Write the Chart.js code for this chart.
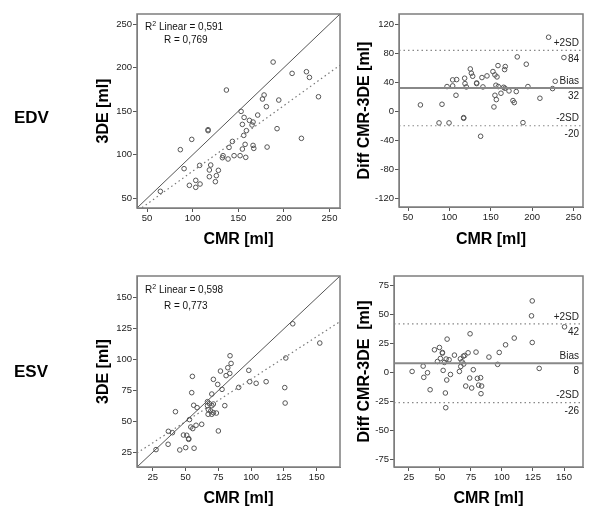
<!DOCTYPE html>
<html>
<head>
<meta charset="utf-8">
<title>EDV / ESV CMR vs 3DE</title>
<script src="https://cdn.jsdelivr.net/npm/chart.js@4.4.0/dist/chart.umd.min.js"></script>
<style>
    body { margin: 0; background: #fff; }
    #wrap { position: relative; width: 600px; height: 513px; overflow: hidden; }
    #wrap canvas { position: absolute; left: 0; top: 0; }
    .row-label { position: absolute; font: bold 17px "Liberation Sans", Arial, sans-serif; color: #000; line-height: 20px; }
    .fit-text { position: absolute; font: 10px "Liberation Sans", Arial, sans-serif; color: #111; line-height: 12px; white-space: nowrap; }
    .fit-text sup { font-size: 7px; vertical-align: 4px; line-height: 0; }
</style>
</head>
<body>
<div id="wrap">
    <canvas id="edv-scatter" width="600" height="513"></canvas>
    <canvas id="edv-diff" width="600" height="513"></canvas>
    <canvas id="esv-scatter" width="600" height="513"></canvas>
    <canvas id="esv-diff" width="600" height="513"></canvas>

    <div class="row-label" style="left:14px; top:108px;">EDV</div>
    <div class="row-label" style="left:14px; top:362px;">ESV</div>

    <div class="fit-text" style="left:145px; top:21px;">R<sup>2</sup> Linear = 0,591</div>
    <div class="fit-text" style="left:164px; top:34px;">R = 0,769</div>
    <div class="fit-text" style="left:145px; top:284px;">R<sup>2</sup> Linear = 0,598</div>
    <div class="fit-text" style="left:164px; top:300px;">R = 0,773</div>
</div>

<script>
// ---- EDV: CMR vs 3DE (ml) ----
const edvCmr = [64.6, 188.2, 209, 224.7, 228, 237.9, 137, 178.3, 176.5, 194.4, 180.8, 153.1, 171.3, 156.4, 162.2, 166.2,
    154.5, 165.1, 158.9, 192.5, 116.9, 116.9, 99, 86.5, 143.6, 156, 157.5, 139.9, 154.5, 166.2, 167, 181.6, 219.2,
    133.3, 132.6, 138.8, 145.4, 152, 158.2, 90.6, 107.7, 119.8, 118.3, 128.2, 118.3, 126, 124.9, 103.4, 108.1, 96.4, 103.4];
const edv3de = [58.1, 206.4, 193.4, 195.3, 188.8, 166.6, 174.3, 168.6, 164, 162.8, 155.2, 149.8, 145.6, 142.9, 139.5, 137.6,
    134.9, 134.2, 127.7, 130, 128.8, 127.7, 117.7, 105.9, 115.4, 122.3, 112, 108.5, 106.6, 110.8, 107.4, 108.9, 118.9,
    99, 96.7, 95.2, 99, 99, 97.1, 84.1, 87.9, 88.3, 82.6, 82.2, 74.9, 76.1, 69.2, 70.7, 66.5, 65, 62.7];

// EDV Bland-Altman: CMR vs difference CMR-3DE
const edvDiffCmr = [219.9, 238.4, 182, 192.9, 158.7, 167.5, 166.7, 125.2, 126.5, 128.1, 152.6, 155, 157.5, 145.4, 139.3, 118.4,
    103.9, 108.7, 118.8, 97.1, 103.9, 120.4, 132.9, 132.9, 140.5, 156.2, 159.1, 165.5, 167.1, 172, 180.8, 194.9, 227.9,
    224.7, 162.3, 155, 156.7, 176.8, 178.4, 209.4, 107.9, 153.8, 64.9, 91, 117.2, 117.2, 87.4, 99.5, 188.9, 137.7];
const edvDiff = [102, 74, 74.9, 64.8, 62.9, 61.6, 57.4, 58.3, 52.4, 48.2, 54.7, 50.1, 47.3, 48.7, 46.4, 45.5,
    43.2, 43.6, 38.1, 34, 34.9, 33.5, 39, 38.1, 33.5, 35.8, 34, 33, 31.7, 28, 27.1, 34, 41.3,
    31.2, 24.8, 22, 16, 14.7, 11.9, 17.9, 22, 5.9, 8.7, 9.6, -8.8, -9.7, -16.1, -16.1, -15.7, -34.5];

// ---- ESV ----
const esvCmr = [27.5, 36.7, 36.9, 40, 42.3, 45.6, 50.1, 48.4, 50.9, 52.4, 52.4, 56.5, 53, 54, 55.5, 58, 62.3, 55.2, 54.7,
    56.2, 58.8, 71.2, 76.6, 83.9, 82.2, 84.7, 80.9, 83.7, 74.5, 77.8, 70, 66.7, 68.2, 71.2, 66.7, 70, 67.4, 69.2, 71.2,
    73.5, 67.2, 70, 79.9, 75, 90.5, 98.2, 98.9, 103.8, 111.4, 126.4, 125.6, 125.9, 131.7, 152.3];
const esv3de = [27.1, 31.4, 41.9, 40.8, 57.8, 26.8, 28.7, 38.9, 38.7, 36, 35.4, 28.2, 51.4, 45.4, 44.1, 46.8, 47.6, 86.4, 73.2,
    63, 61.1, 84, 90.7, 103.1, 93.4, 96.9, 87, 88.8, 79.9, 75.9, 72.1, 65.9, 64.3, 64, 62.7, 62.7, 59.4, 58.4, 57,
    56.7, 55.7, 55.7, 62.7, 42.2, 77.5, 91.3, 82.1, 80.8, 82.1, 101.3, 77.3, 64.8, 129, 113.4];

const esvDiffCmr = [124.4, 123.8, 124.4, 150.4, 130, 109.9, 102.9, 97.8, 96.5, 89.5, 74.3, 79.1, 72.7, 76.9, 70, 68.9, 66.5,
    67.8, 69.2, 66.8, 65.7, 61.7, 55.8, 49.6, 45.6, 52, 52, 50.4, 48, 55, 57.4, 53.6, 36.5, 27.6, 40, 37, 52.6, 58.5,
    55.5, 42.1, 54.4, 54.7, 74, 70.8, 75.6, 80.2, 82.8, 81.2, 83.6, 83.1];
const esvDiff = [61.8, 48.9, 25.9, 39.4, 3.5, 29.7, 23.9, 17.3, 7, 13.3, 33.4, 17.6, 17, 2.4, 14.7, 14.1, 11.8,
    9.3, 7.3, 5.2, 0.9, 15, 28.8, 21.6, 19.6, 17.3, 16.7, 12.1, 9.5, 11.6, 11, 8.7, 5.5, 0.9, -0.2, -4.2, 1.8, -1.7,
    -6.5, -14.9, -17.7, -30.4, -4.8, -11.7, -13.4, -5.1, -4.5, -10.9, -11.7, -18.3];

// axis ranges and ticks
const edvRange = [39, 261.5];
const edvDiffRange = [-132, 134];
const esvRange = [13, 167.7];
const esvDiffXRange = [13, 165.3];
const esvDiffRange = [-81.6, 83.3];

// lines: identity and linear fit end points
const edvFitLine = [[44.5, 39.4], [261.5, 202.8]];
const esvFitLine = [[13, 24.3], [167.7, 130.8]];

// Bland-Altman limits: +2SD, bias, -2SD
const limitNames = ['+2SD', 'Bias', '-2SD'];
const edvLimits = [84, 32, -20];
const esvLimits = [42, 8, -26];

const fontFamily = '"Liberation Sans", Arial, sans-serif';
Chart.defaults.font.family = fontFamily;
Chart.defaults.color = '#222';

const toPoints = (xs, ys) => xs.map((x, i) => ({ x: x, y: ys[i] }));
const pairs = arr => arr.map(p => ({ x: p[0], y: p[1] }));

const framePlugin = {
    id: 'frame',
    afterDatasetsDraw(chart) {
        const { ctx, chartArea: a } = chart;
        ctx.save();
        ctx.strokeStyle = '#7d7d7d';
        ctx.lineWidth = 1.5;
        ctx.strokeRect(a.left, a.top, a.right - a.left, a.bottom - a.top);
        ctx.restore();
    }
};

const limitLabelPlugin = {
    id: 'limitLabels',
    afterDatasetsDraw(chart, args, opts) {
        if (!opts || !opts.values) return;
        const { ctx, chartArea: a } = chart;
        const yScale = chart.scales.y;
        ctx.save();
        ctx.font = '10px ' + fontFamily;
        ctx.fillStyle = '#222';
        ctx.textAlign = 'right';
        ctx.textBaseline = 'middle';
        opts.values.forEach((v, i) => {
            const py = yScale.getPixelForValue(v);
            ctx.fillText(limitNames[i], a.right - 4, py - 7);
            ctx.fillText(String(v), a.right - 4, py + 8.5);
        });
        ctx.restore();
    }
};

function makeAxis(range, step, title, size, isY) {
    return {
        type: 'linear',
        min: range[0],
        max: range[1],
        ticks: { stepSize: step, includeBounds: false, padding: 1, color: '#222', font: { size: 9.5 } },
        grid: { drawOnChartArea: false, drawTicks: true, tickLength: 4, tickColor: '#555' },
        border: { display: true, color: '#7d7d7d', width: 1 },
        title: { display: true, text: title, color: '#000', padding: 0, font: { size: 16, weight: 'bold' } },
        afterFit: scale => { if (isY) scale.width = size; else scale.height = size; }
    };
}

const pointStyle = {
    type: 'scatter',
    pointRadius: 2.3,
    pointBorderWidth: 1,
    pointBorderColor: '#555',
    pointBackgroundColor: 'rgba(0,0,0,0)',
    showLine: false
};

function lineSet(points, color, width, dash) {
    return {
        type: 'scatter',
        data: points,
        showLine: true,
        pointRadius: 0,
        borderColor: color,
        borderWidth: width,
        borderDash: dash,
        fill: false
    };
}

function makeChart(id, datasets, scales, padding, limits) {
    return new Chart(document.getElementById(id), {
        type: 'scatter',
        data: { datasets: datasets },
        options: {
            responsive: false,
            animation: false,
            devicePixelRatio: 1,
            layout: { padding: padding },
            scales: scales,
            plugins: {
                legend: { display: false },
                tooltip: { enabled: false },
                limitLabels: limits ? { values: limits } : {}
            }
        },
        plugins: [framePlugin, limitLabelPlugin]
    });
}

// EDV scatter
makeChart('edv-scatter', [
    lineSet(pairs([[edvRange[0], edvRange[0]], [edvRange[1], edvRange[1]]]), '#555', 1, []),
    lineSet(pairs(edvFitLine), '#777', 1.2, [1.5, 3]),
    Object.assign({ data: toPoints(edvCmr, edv3de) }, pointStyle)
], {
    x: makeAxis(edvRange, 50, 'CMR [ml]', 41, false),
    y: makeAxis(edvRange, 50, '3DE [ml]', 43, true)
}, { left: 94, top: 14, right: 260, bottom: 264 });

// EDV Bland-Altman
makeChart('edv-diff', [
    lineSet(pairs([[edvRange[0], edvLimits[0]], [edvRange[1], edvLimits[0]]]), '#888', 1.2, [1.5, 3]),
    lineSet(pairs([[edvRange[0], edvLimits[1]], [edvRange[1], edvLimits[1]]]), '#888', 2, []),
    lineSet(pairs([[edvRange[0], edvLimits[2]], [edvRange[1], edvLimits[2]]]), '#888', 1.2, [1.5, 3]),
    Object.assign({ data: toPoints(edvDiffCmr, edvDiff) }, pointStyle)
], {
    x: makeAxis(edvRange, 50, 'CMR [ml]', 42, false),
    y: makeAxis(edvDiffRange, 40, 'Diff CMR-3DE [ml]', 44, true)
}, { left: 355, top: 14, right: 17, bottom: 264 }, edvLimits);

// ESV scatter
makeChart('esv-scatter', [
    lineSet(pairs([[esvRange[0], esvRange[0]], [esvRange[1], esvRange[1]]]), '#555', 1, []),
    lineSet(pairs(esvFitLine), '#777', 1.2, [1.5, 3]),
    Object.assign({ data: toPoints(esvCmr, esv3de) }, pointStyle)
], {
    x: makeAxis(esvRange, 25, 'CMR [ml]', 41, false),
    y: makeAxis(esvRange, 25, '3DE [ml]', 43, true)
}, { left: 94, top: 276, right: 260, bottom: 5 });

// ESV Bland-Altman
makeChart('esv-diff', [
    lineSet(pairs([[esvDiffXRange[0], esvLimits[0]], [esvDiffXRange[1], esvLimits[0]]]), '#888', 1.2, [1.5, 3]),
    lineSet(pairs([[esvDiffXRange[0], esvLimits[1]], [esvDiffXRange[1], esvLimits[1]]]), '#888', 2, []),
    lineSet(pairs([[esvDiffXRange[0], esvLimits[2]], [esvDiffXRange[1], esvLimits[2]]]), '#888', 1.2, [1.5, 3]),
    Object.assign({ data: toPoints(esvDiffCmr, esvDiff) }, pointStyle)
], {
    x: makeAxis(esvDiffXRange, 25, 'CMR [ml]', 41, false),
    y: makeAxis(esvDiffRange, 25, 'Diff CMR-3DE  [ml]', 39, true)
}, { left: 355, top: 276, right: 17, bottom: 5 }, esvLimits);
</script>
</body>
</html>
